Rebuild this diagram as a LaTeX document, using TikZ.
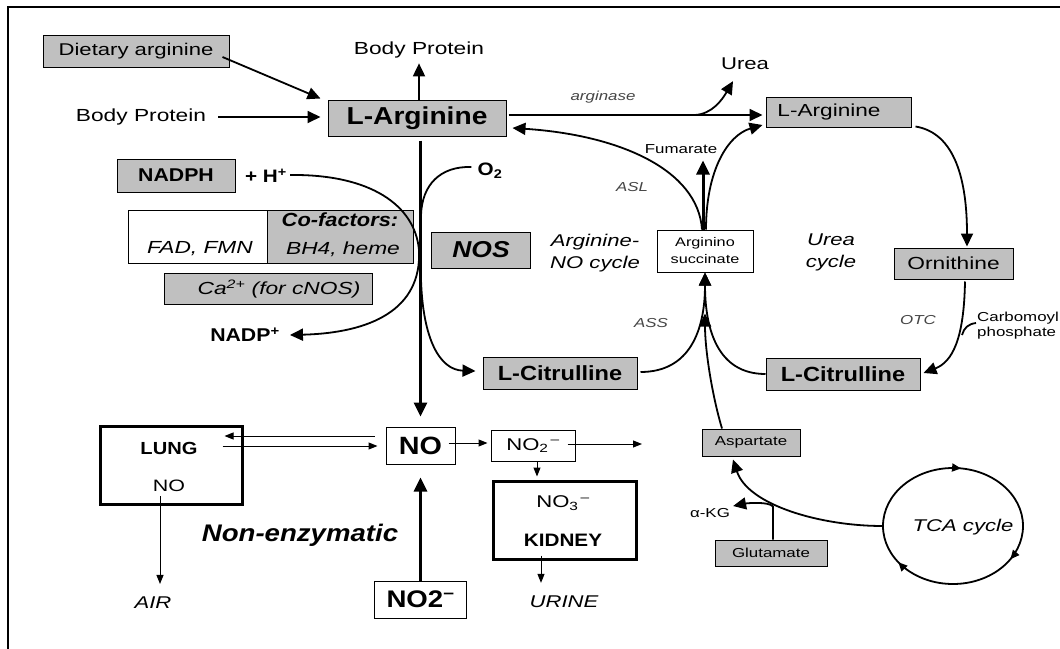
\documentclass[tikz,border=0pt]{standalone}
\usepackage{fontspec}
\setmainfont{Liberation Sans}[FakeStretch=1.3]
\newfontfamily\bfam{Liberation Sans}[FakeStretch=1.15, Ligatures=TeX]
\usetikzlibrary{arrows.meta,calc,decorations.markings,shapes.geometric}
\definecolor{boxgray}{RGB}{192,192,192}
\definecolor{lblgray}{RGB}{70,70,70}
\newcommand\fsz[1]{\fontsize{#1}{#1}\selectfont}
\newcommand\fsl[2]{\fontsize{#1}{#2}\selectfont}
\newcommand\bsz[1]{\bfam\bfseries\fontsize{#1}{#1}\selectfont}
\tikzset{
  gbox/.style={draw, fill=boxgray, line width=1pt, inner sep=0pt},
  wbox/.style={draw, fill=white, line width=1pt, inner sep=0pt},
  tbox/.style={draw, line width=3pt, inner sep=0pt},
  txt/.style={inner sep=0pt, align=center},
  lbl/.style={inner sep=0pt, align=center, text=lblgray, font=\fsz{13}\itshape},
  ln/.style={line width=1.8pt, -{Triangle[length=13pt,width=12pt]}},
  lnplain/.style={line width=1.8pt},
  thk/.style={line width=3pt, -{Triangle[length=14pt,width=13pt]}},
  thn/.style={line width=1pt, -{Triangle[length=9pt,width=7pt]}}
}
\begin{document}
\begin{tikzpicture}[x=1pt,y=-1pt]
\useasboundingbox (0,0) rectangle (1060,648);
\fill[white] (0,0) rectangle (1060,648);
\draw[line width=2pt] (8,7) rectangle (1080,670);

% ---------- left / top ----------
\node[gbox, minimum width=186pt, minimum height=32pt, font=\fsz{17}] (diet) at (136,51) {Dietary arginine};
\node[txt, font=\fsz{17.5}] (bpL) at (141,117) {Body Protein};
\node[txt, font=\fsz{17.5}] (bpT) at (419,50) {Body Protein};
\node[gbox, minimum width=178pt, minimum height=36pt, font=\bsz{24.5}] (larg) at (417,118) {L-Arginine};

\node[gbox, minimum width=118pt, minimum height=33pt, font=\bsz{18.5}] (nadph) at (176,175.5) {NADPH};
\node[txt, font=\bsz{18}] (hplus) at (266,176) {+ H\textsuperscript{+}};
\node[txt, font=\bsz{18}] (o2) at (490,171) {O\textsubscript{2}};

\node[wbox, minimum width=139pt, minimum height=53pt] (fad) at (197.5,236.5) {};
\node[txt, font=\fsz{17.5}\itshape] (fadt) at (200,249) {FAD, FMN};
\node[gbox, minimum width=146pt, minimum height=53pt] (cof) at (340.5,236.5) {};
\node[txt, font=\bsz{19}\itshape] (coft) at (340,220) {Co-factors:};
\node[txt, font=\fsz{17.5}\itshape] (bh4) at (343,249) {BH4, heme};
\node[gbox, minimum width=208pt, minimum height=31pt] (ca) at (268,288.5) {};
\node[txt, font=\fsz{17.5}\itshape] (cat) at (279,289) {Ca\textsuperscript{2+} (for cNOS)};

\node[gbox, minimum width=99pt, minimum height=36pt, font=\bsz{23}\itshape] (nos) at (481,250) {NOS};
\node[txt, font=\bsz{18.5}] (nadp) at (245,335) {NADP\textsuperscript{+}};

\node[gbox, minimum width=154pt, minimum height=32pt, font=\bsz{20.5}] (citL) at (560,373) {L-Citrulline};
\node[gbox, minimum width=154pt, minimum height=32pt, font=\bsz{20.5}] (citR) at (843,374) {L-Citrulline};

% ---------- right cycle ----------
\node[gbox, minimum width=145pt, minimum height=30pt] (argR) at (838.5,112) {};
\node[txt, font=\fsz{17.4}] (argRt) at (829,112) {L-Arginine};
\node[gbox, minimum width=119pt, minimum height=31pt, font=\fsz{17.5}] (orn) at (953.5,263.5) {Ornithine};
\node[wbox, minimum width=96pt, minimum height=42pt, align=center, font=\fsl{12.5}{17}] (asucc) at (705,251) {Arginino\\succinate};
\node[txt, font=\fsz{17}] (urea) at (745,64) {Urea};
\node[lbl] (arginase) at (603,97) {arginase};
\node[txt, font=\fsz{13}] (fum) at (681,149) {Fumarate};
\node[lbl] (asl) at (632,187) {ASL};
\node[lbl] (ass) at (651,323) {ASS};
\node[lbl] (otc) at (918,320) {OTC};
\node[txt, font=\fsl{17}{22}\itshape] (anoc) at (595,253) {Arginine-\\NO cycle};
\node[txt, font=\fsl{17}{22}\itshape] (ureac) at (831,252) {Urea\\cycle};
\node[inner sep=0pt, anchor=west, align=left, font=\fsl{13}{15}] (carb) at (977,326) {Carbomoyl\\phosphate};

% ---------- bottom ----------
\node[tbox, minimum width=142pt, minimum height=78pt] (lung) at (171,465) {};
\node[txt, font=\bsz{17.5}] (lungt) at (169,448) {LUNG};
\node[txt, font=\fsz{16.5}] (lno) at (169,486) {NO};
\node[txt, font=\fsz{17}\itshape] (air) at (153,603) {AIR};
\node[draw, line width=1pt, minimum width=69pt, minimum height=37pt, inner sep=0pt, font=\bsz{25}] (no) at (420.5,445.5) {NO};
\node[draw, line width=1pt, minimum width=84pt, minimum height=31pt, inner sep=0pt, font=\fsz{17}] (no2) at (533,445.5) {NO\textsubscript{2}\textsuperscript{\,–}};
\coordinate (out) at (642,444);
\node[tbox, minimum width=143pt, minimum height=78pt] (kidney) at (564.5,520) {};
\node[txt, font=\fsz{17}] (no3) at (563,503) {NO\textsubscript{3}\textsuperscript{\,–}};
\node[txt, font=\bsz{18}] (kidt) at (563,540) {KIDNEY};
\node[txt, font=\fsz{17}\itshape] (urine) at (564,602) {URINE};
\node[draw, line width=1pt, minimum width=92pt, minimum height=37pt, inner sep=0pt, font=\bsz{24}] (no2b) at (420.5,599.5) {NO2\textsuperscript{–}};
\node[txt, font=\bsz{24}\itshape] (nonenz) at (300,535) {Non-enzymatic};

\node[gbox, minimum width=98pt, minimum height=27pt, font=\fsz{13}] (asp) at (751,442.5) {Aspartate};
\node[gbox, minimum width=112pt, minimum height=26pt, font=\fsz{13}] (glu) at (771,553) {Glutamate};
\node[txt, font=\fsz{13}] (akg) at (710,513) {α-KG};
\node[ellipse, minimum width=140pt, minimum height=116pt, inner sep=0pt] (tca) at (953,526) {};
\node[txt, font=\fsz{17}\itshape] (tcat) at (963,527) {TCA cycle};
\draw[line width=1.8pt, postaction={decorate}, decoration={markings,
   mark=at position 0.23 with {\arrowreversed{Triangle[length=9pt,width=8pt]}},
   mark=at position 0.60 with {\arrowreversed{Triangle[length=9pt,width=8pt]}},
   mark=at position 0.91 with {\arrowreversed{Triangle[length=9pt,width=8pt]}}}]
   (tca.center) ellipse [x radius=70pt, y radius=58pt];

% ---------- connectors ----------
\draw[ln] ($(diet.east)+(-7,6)$) -- ($(larg.north west)+(-7,-1)$);
\draw[ln] ($(bpL.east)+(12,0)$) -- ($(larg.west)+(-7,-1)$);
\draw[ln] ($(larg.north)+(2,0)$) -- ($(bpT.south)+(0,5)$);
\draw[thk] ($(no.north |- larg.south)+(0,4)$) -- ($(no.north)+(0,-10)$);
\draw[ln] ($(hplus.east)+(3,-1)$) .. controls (370,174) and (415,205) .. (419,250)
          .. controls (422,310) and (370,333) .. ($(nadp.east)+(10,0)$);
\draw[lnplain] ($(o2.west)+(-6,-4)$) .. controls (440,166) and (422,185) .. (421,215);
\draw[ln] (421,280) .. controls (423,340) and (440,370) .. ($(citL.west)+(-7,-2)$);

\draw[ln] ($(larg.east)+(2,-3)$) -- ($(argR.west)+(-3,3)$);
\coordinate (ub) at (695,115);
\draw[ln] (ub) .. controls (712,114) and (722,100) .. ($(urea.south)+(-12,11)$);
\draw[ln] ($(asucc.north)+(-3,0)$) .. controls (698,170) and (620,135) .. ($(larg.east)+(6,10)$);
\draw[thk] ($(asucc.north)+(-2,0)$) -- ++(0,-69);
\draw[ln] ($(asucc.north)+(1,0)$) .. controls (706,170) and (728,135) .. ($(argR.west)+(-3,13)$);
\draw[ln] ($(argR.south east)+(4,-1)$) .. controls (955,133) and (967,180) .. ($(orn.north)+(13.5,-1)$);
\draw[ln] ($(orn.south)+(11.5,2)$) .. controls (964,340) and (952,362) .. ($(citR.east)+(3,-1)$);
\draw[lnplain] ($(carb.west)+(-1,-3)$) .. controls (968,324) and (964,328) .. (962,335);
\draw[ln] ($(citL.east)+(3,-1)$) .. controls (690,372) and (705,330) .. (asucc.south);
\draw[ln] (citR.west) .. controls (718,374) and (705,330) .. (asucc.south);
\draw[ln] ($(asp.north)+(-29,0)$) .. controls (712,395) and (705,350) .. ($(asucc.south)+(0,41)$);
\draw[ln] (tca.west) .. controls (820,526) and (748,505) .. ($(asp.south)+(-18,3)$);
\draw[ln] ($(glu.north)+(2,0)$) -- ++(0,-33) .. controls +(-4,-5) and +(15,-3) .. ($(akg.east)+(3,-7)$);

\draw[thn] ($(no.west)+(-11,-9.5)$) -- ($(lung.east)+(-19,-29)$);
\draw[thn] ($(lung.east)+(-21,-19)$) -- ($(no.west)+(-8,0.5)$);
\draw[thn] ($(lno.south)+(-9,4)$) -- ($(air.north)+(7,-13)$);
\draw[thn] ($(no.east)+(-7,-2.5)$) -- ($(no2.west)+(-3,-2.5)$);
\draw[thn] ($(no2.east)+(-8,-1.5)$) -- (out);
\draw[thn] ($(no2.south)+(4,0)$) -- ($(kidney.north)+(-27.5,-3)$);
\draw[thn] ($(kidney.south)+(-23.5,-5)$) -- ($(urine.north)+(-23,-13)$);
\draw[thk] (no2b.north) -- ($(no.south)+(0,13)$);
\end{tikzpicture}
\end{document}
